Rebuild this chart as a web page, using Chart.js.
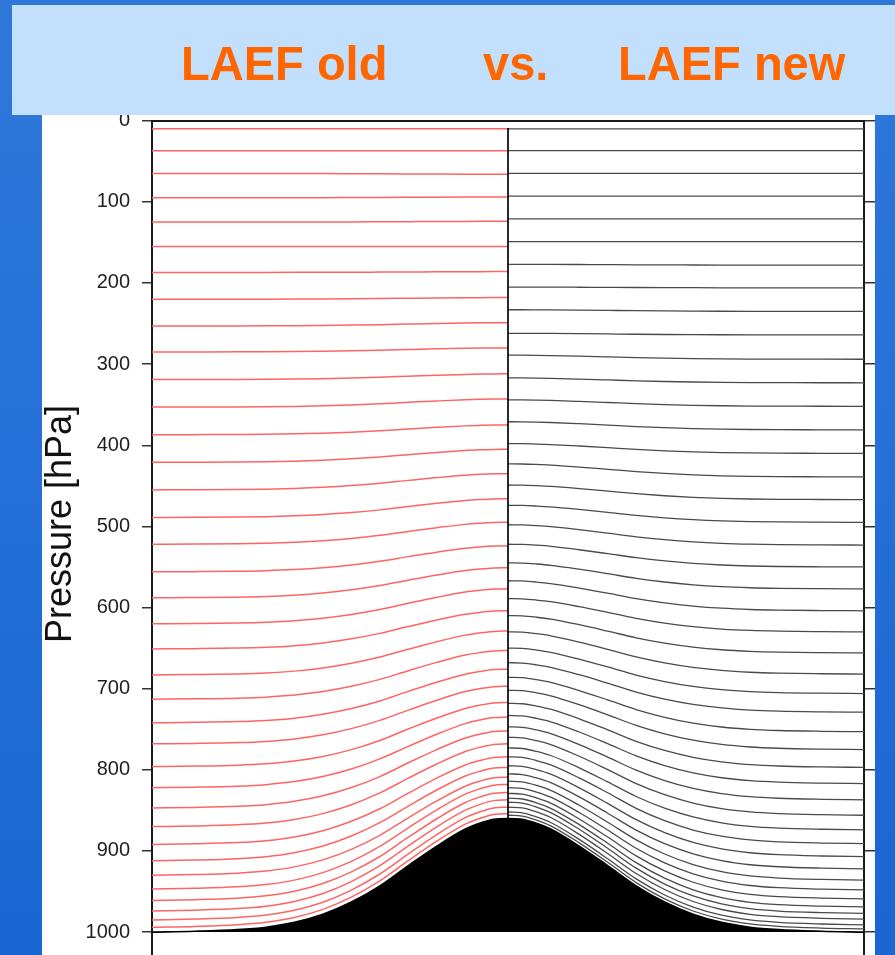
<!DOCTYPE html>
<html>
<head>
<meta charset="utf-8">
<script src="https://cdn.jsdelivr.net/npm/chart.js@4.4.1/dist/chart.umd.min.js"></script>
<style>
  html, body { margin:0; padding:0; width:895px; height:955px; overflow:hidden; }
  body { position:relative; background:linear-gradient(180deg,#2f78da 0%,#2470d8 50%,#1a66d2 100%); font-family:"Liberation Sans", Arial, sans-serif; }
  #header { position:absolute; left:12px; top:5px; width:883px; height:110px; background:#c2e0fc; z-index:5; }
  .ttl { position:absolute; top:33.5px; font-weight:bold; font-size:49px; line-height:49px; color:#ff6600; white-space:nowrap; transform:scaleX(0.96); transform-origin:0 0; }
  #wrap { position:absolute; left:42px; top:95px; width:833px; height:902px; background:#fff; }
  #ytitle { position:absolute; left:59px; top:524px; width:400px; height:36px; line-height:36px; font-size:36px; color:#111; text-align:center; transform:translate(-50%,-50%) rotate(-90deg); white-space:nowrap; z-index:3; }
</style>
</head>
<body>
<div id="header">
  <div class="ttl" style="left:169px">LAEF old</div>
  <div class="ttl" style="left:471px">vs.</div>
  <div class="ttl" style="left:606px">LAEF new</div>
</div>
<div id="wrap"><canvas id="c" width="833" height="902"></canvas></div>
<div id="ytitle">Pressure [hPa]</div>
<script>
// ---- data ----
// horizontal position across the cross-section (0 = left edge, 100 = right edge)
const terrainX = [0, 6, 12, 16, 20, 24, 28, 32, 36, 40, 44, 46, 48, 50, 52, 54, 56, 60, 64, 68, 72, 76, 80, 84, 88, 94, 100];
// surface pressure of the orography (hPa) at those positions
const surfaceP = [1000, 999, 997, 994, 988, 978, 963, 943, 918, 894, 873, 866, 861, 860, 861, 866, 873, 894, 918, 943, 963, 978, 988, 994, 997, 999, 1000];

// LAEF old (37 levels): pressure at the flat edge and above the mountain top
const oldEdgeP = [10, 37, 65, 95, 125, 155, 187, 220, 253, 285, 319, 353, 387, 421, 455, 489, 522, 556, 588, 620, 651, 683, 713, 742, 768, 796, 822, 847, 870, 892, 912, 930, 947, 961, 974, 985, 994];
const oldPeakP = [10, 37, 66, 94, 124, 155, 186, 218, 249, 280, 312, 343, 375, 405, 435, 466, 495, 524, 551, 577, 604, 629, 653, 676, 697, 717, 735, 752, 768, 784, 797, 809, 818, 828, 837, 846, 854];

// LAEF new (45 levels)
const newEdgeP = [10, 37, 65, 93, 121, 149, 178, 206, 235, 264, 294, 323, 352, 381, 410, 439, 467, 495, 523, 550, 577, 604, 630, 656, 682, 706, 729, 753, 775, 797, 817, 837, 856, 874, 891, 907, 922, 936, 948, 959, 969, 977, 984, 991, 996];
const newPeakP = [10, 37, 65, 93, 121, 149, 177, 205, 233, 262, 289, 317, 344, 371, 398, 423, 449, 474, 498, 522, 545, 567, 589, 610, 630, 650, 668, 686, 702, 718, 733, 747, 760, 773, 784, 795, 805, 814, 822, 829, 835, 840, 846, 852, 856];

// divider between the two halves (top pressure, bottom = mountain top)
const dividerTopP = 9;
// y-axis tick labels
const yTicks = [0, 100, 200, 300, 400, 500, 600, 700, 800, 900, 1000];

// ---- build datasets ----
const psEdge = Math.max(...surfaceP);
const psPeak = Math.min(...surfaceP);
const centerX = terrainX[surfaceP.indexOf(psPeak)];

function levelLine(edgeP, peakP, side) {
  const pts = [];
  terrainX.forEach((x, i) => {
    if (side === 'left' ? x <= centerX : x >= centerX) {
      const w = (psEdge - surfaceP[i]) / (psEdge - psPeak);
      pts.push({ x: x, y: edgeP + (peakP - edgeP) * w });
    }
  });
  return pts;
}

const datasets = [];
oldEdgeP.forEach((e, i) => datasets.push({
  label: 'old ' + (i + 1), data: levelLine(e, oldPeakP[i], 'left'),
  borderColor: '#ff6464', borderWidth: 1.5, pointRadius: 0,
  cubicInterpolationMode: 'monotone', fill: false, order: 3
}));
newEdgeP.forEach((e, i) => datasets.push({
  label: 'new ' + (i + 1), data: levelLine(e, newPeakP[i], 'right'),
  borderColor: '#4a4a4a', borderWidth: 1.3, pointRadius: 0,
  cubicInterpolationMode: 'monotone', fill: false, order: 3
}));
datasets.push({
  label: 'divider', data: [{ x: centerX, y: dividerTopP }, { x: centerX, y: psPeak }],
  borderColor: '#111', borderWidth: 1.8, pointRadius: 0, fill: false, order: 1
});
datasets.push({
  label: 'orography', data: terrainX.map((x, i) => ({ x: x, y: surfaceP[i] })),
  borderColor: '#000', backgroundColor: '#000', borderWidth: 1.6, pointRadius: 0,
  cubicInterpolationMode: 'monotone', fill: { value: psEdge }, order: 0
});

const tickFont = { family: '"Liberation Sans", Arial, sans-serif', size: 20 };

new Chart(document.getElementById('c'), {
  type: 'line',
  data: { datasets: datasets },
  options: {
    responsive: false, animation: false, devicePixelRatio: 1,
    layout: { padding: 0 },
    plugins: { legend: { display: false }, tooltip: { enabled: false } },
    scales: {
      x: {
        type: 'linear', position: 'top', min: 0, max: 100,
        grid: { display: false },
        ticks: { display: false },
        border: { display: true, color: '#1a1a1a', width: 2 },
        afterFit: s => { s.height = 25.7; s.paddingLeft = 0; s.paddingRight = 0; }
      },
      y: {
        type: 'linear', position: 'left', reverse: true, min: 0, max: 1080,
        afterBuildTicks: s => { s.ticks = yTicks.map(v => ({ value: v })); },
        grid: { display: true, drawOnChartArea: false, drawTicks: true, tickLength: 10, color: '#333', lineWidth: 1.5 },
        border: { display: true, color: '#1a1a1a', width: 2 },
        ticks: { font: tickFont, color: '#1e1e1e', padding: 12, callback: v => String(v) },
        afterFit: s => { s.width = 110; s.paddingTop = 0; s.paddingBottom = 0; }
      },
      y2: {
        type: 'linear', position: 'right', reverse: true, min: 0, max: 1080,
        afterBuildTicks: s => { s.ticks = yTicks.map(v => ({ value: v })); },
        grid: { display: true, drawOnChartArea: false, drawTicks: true, tickLength: 11, color: '#333', lineWidth: 1.5 },
        border: { display: true, color: '#1a1a1a', width: 2 },
        ticks: { display: false },
        afterFit: s => { s.width = 11; s.paddingTop = 0; s.paddingBottom = 0; }
      }
    }
  }
});
</script>
</body>
</html>
